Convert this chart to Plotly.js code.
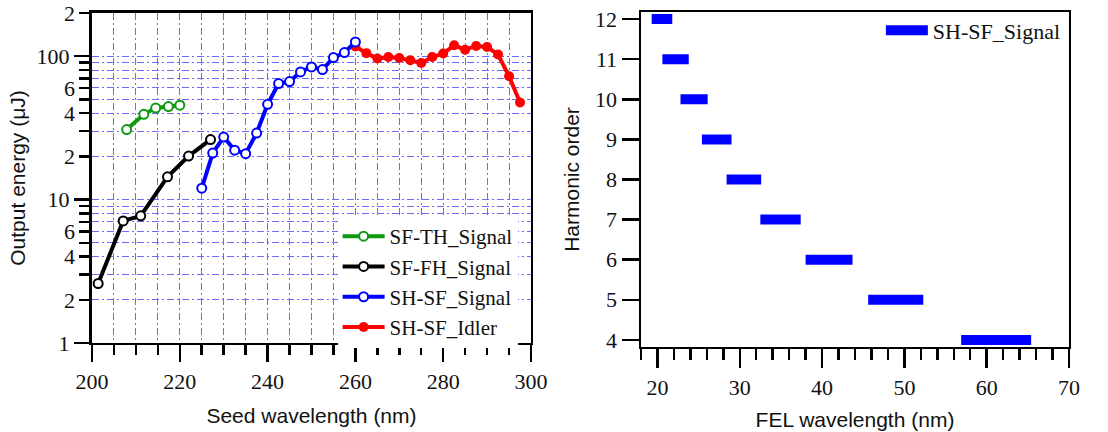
<!DOCTYPE html>
<html>
<head>
<meta charset="utf-8">
<script src="https://cdn.plot.ly/plotly-3.0.1.min.js"></script>
<style>html,body{margin:0;padding:0;background:#fff;}#chart{width:1108px;height:432px;}</style>
</head>
<body>
<div id="chart"></div>
<script>
// ---- Left panel data: seed wavelength (nm) vs output energy (uJ)
const seedTH = [207.9, 211.8, 214.5, 217.4, 220.0];
const energyTH = [30.8, 39.3, 43.5, 44.5, 45.5];
const seedFH = [201.4, 207.1, 211.1, 217.2, 222.0, 227.0];
const energyFH = [2.6, 7.1, 7.7, 14.4, 20.1, 26.2];
const seedSig = [225, 227.5, 230, 232.5, 235, 237.5, 240, 242.5, 245, 247.5, 250, 252.5, 255, 257.5, 260];
const energySig = [12.0, 21.1, 27.3, 22.1, 20.9, 29.1, 46.2, 64.4, 66.5, 77.6, 84.1, 80.6, 97.8, 106, 125.6];
const seedIdl = [260, 262.5, 265, 267.5, 270, 272.5, 275, 277.5, 280, 282.5, 285, 287.5, 290, 292.5, 295, 297.5];
const energyIdl = [117, 105, 96.2, 98.7, 97.1, 93.6, 89.7, 98.7, 104.3, 119, 111, 117.8, 115.9, 102.6, 72.4, 47.5];

// left y tick labels (log axis)
const yMinorLabelVals = [2, 4, 6, 20, 40, 60, 200];
const yMinorLabelText = ["2", "4", "6", "2", "4", "6", "2"];
const yDecadeVals = [1, 10, 100];
const yDecadeText = ["1", "10", "100"];
const yUnlabeledVals = [3, 5, 7, 8, 9, 30, 50, 70, 80, 90];

// ---- Right panel data: harmonic order vs FEL wavelength range (nm)
const harmonicOrder = [12, 11, 10, 9, 8, 7, 6, 5, 4];
const felStart = [19.3, 20.6, 22.8, 25.4, 28.4, 32.5, 38.0, 45.6, 56.9];
const felEnd = [21.8, 23.8, 26.1, 29.0, 32.6, 37.4, 43.7, 52.3, 65.4];

// build segment arrays from the data
const segX = [], segY = [];
harmonicOrder.forEach((n, i) => {
  segX.push(felStart[i], felEnd[i], null);
  segY.push(n, n, null);
});

const gridCol = '#6a6aff';
const gridDash = '7px,3px,2px,3px';
const serif = 'Liberation Serif';
const sans = 'Liberation Sans';

function openMarker(col) {
  return {symbol: 'circle', size: 9, color: 'white', line: {color: col, width: 2}};
}

const traces = [
  {x: seedTH, y: energyTH, name: 'SF-TH_Signal', mode: 'lines+markers', xaxis: 'x', yaxis: 'y',
   line: {color: '#109a10', width: 4}, marker: openMarker('#109a10'), legend: 'legend'},
  {x: seedFH, y: energyFH, name: 'SF-FH_Signal', mode: 'lines+markers', xaxis: 'x', yaxis: 'y',
   line: {color: '#000000', width: 4}, marker: openMarker('#000000'), legend: 'legend'},
  {x: seedSig, y: energySig, name: 'SH-SF_Signal', mode: 'lines+markers', xaxis: 'x', yaxis: 'y3',
   line: {color: '#0000ff', width: 4}, marker: openMarker('#0000ff'), legend: 'legend'},
  {x: seedIdl, y: energyIdl, name: 'SH-SF_Idler', mode: 'lines+markers', xaxis: 'x', yaxis: 'y',
   line: {color: '#ff0000', width: 4}, marker: {symbol: 'circle', size: 10, color: '#ff0000'}, legend: 'legend'},
  {x: segX, y: segY, name: 'SH-SF_Signal', mode: 'lines', xaxis: 'x2', yaxis: 'y2',
   line: {color: '#0000ff', width: 10}, connectgaps: false, legend: 'legend2'}
];

const logRange = [0, Math.log10(200)];

const layout = {
  width: 1108, height: 432,
  margin: {l: 0, r: 0, t: 0, b: 0},
  paper_bgcolor: 'white', plot_bgcolor: 'white',
  showlegend: true,
  xaxis: {
    domain: [0.08303, 0.47924], anchor: 'y', range: [200, 300],
    tickmode: 'linear', tick0: 200, dtick: 20, ticks: 'outside', ticklen: 17, tickwidth: 2.5, tickcolor: 'black',
    showline: true, linecolor: 'black', linewidth: 2.5, mirror: true,
    showgrid: true, gridcolor: gridCol, griddash: gridDash, gridwidth: 1, zeroline: false,
    minor: {dtick: 5, ticks: 'outside', ticklen: 10, tickwidth: 2.5, tickcolor: 'black',
            showgrid: true, gridcolor: gridCol, griddash: gridDash, gridwidth: 1},
    tickfont: {family: serif, size: 22, color: '#111'},
    title: {text: 'Seed wavelength (nm)', font: {family: sans, size: 21, color: '#111'}, standoff: 16}
  },
  yaxis: {
    domain: [0.20602, 0.96991], anchor: 'x', type: 'log', range: logRange,
    tickmode: 'array', tickvals: yMinorLabelVals, ticktext: yMinorLabelText,
    ticks: 'outside', ticklen: 10, tickwidth: 2.5, tickcolor: 'black',
    showline: true, linecolor: 'black', linewidth: 2.5, mirror: true,
    showgrid: true, gridcolor: gridCol, griddash: gridDash, gridwidth: 1, zeroline: false,
    minor: {tickmode: 'array', tickvals: yUnlabeledVals, ticks: 'outside', ticklen: 10, tickwidth: 2.5, tickcolor: 'black',
            showgrid: true, gridcolor: gridCol, griddash: gridDash, gridwidth: 1},
    tickfont: {family: serif, size: 22, color: '#111'},
    title: {text: 'Output energy (μJ)', font: {family: sans, size: 21, color: '#111'}, standoff: 33}
  },
  yaxis3: {
    overlaying: 'y', anchor: 'x', side: 'left', type: 'log', range: logRange,
    tickmode: 'array', tickvals: yDecadeVals, ticktext: yDecadeText,
    ticks: 'outside', ticklen: 17, tickwidth: 2.5, tickcolor: 'black',
    showline: false, showgrid: true, gridcolor: gridCol, griddash: gridDash, gridwidth: 1, zeroline: false,
    tickfont: {family: serif, size: 22, color: '#111'}
  },
  xaxis2: {
    domain: [0.57852, 0.96480], anchor: 'y2', range: [18, 70],
    tickmode: 'linear', tick0: 20, dtick: 10, ticks: 'outside', ticklen: 19, tickwidth: 2.5, tickcolor: 'black',
    showline: true, linecolor: 'black', linewidth: 2.5, mirror: true, showgrid: false, zeroline: false,
    minor: {dtick: 2, tick0: 0, ticks: 'outside', ticklen: 11, tickwidth: 2.5, tickcolor: 'black', showgrid: false},
    tickfont: {family: serif, size: 22, color: '#111'},
    title: {text: 'FEL wavelength (nm)', font: {family: sans, size: 21, color: '#111'}, standoff: 14}
  },
  yaxis2: {
    domain: [0.19745, 0.97153], anchor: 'x2', range: [3.83, 12.17],
    tickmode: 'linear', tick0: 4, dtick: 1, ticks: 'outside', ticklen: 17, tickwidth: 2.5, tickcolor: 'black',
    showline: true, linecolor: 'black', linewidth: 2.5, mirror: true, showgrid: false, zeroline: false,
    tickfont: {family: serif, size: 22, color: '#111'},
    title: {text: 'Harmonic order', font: {family: sans, size: 21, color: '#111'}, standoff: 10}
  },
  legend: {
    x: 0.3047, y: 0.5, xanchor: 'left', yanchor: 'top',
    bgcolor: 'white', borderwidth: 0, itemwidth: 42,
    font: {family: serif, size: 21, color: '#111'}, tracegroupgap: 0
  },
  legend2: {
    x: 0.795, y: 0.978, xanchor: 'left', yanchor: 'top',
    bgcolor: 'rgba(255,255,255,0)', borderwidth: 0, itemwidth: 42,
    font: {family: serif, size: 22, color: '#111'}
  }
};

Plotly.newPlot('chart', traces, layout, {staticPlot: true, displayModeBar: false});
</script>
</body>
</html>
